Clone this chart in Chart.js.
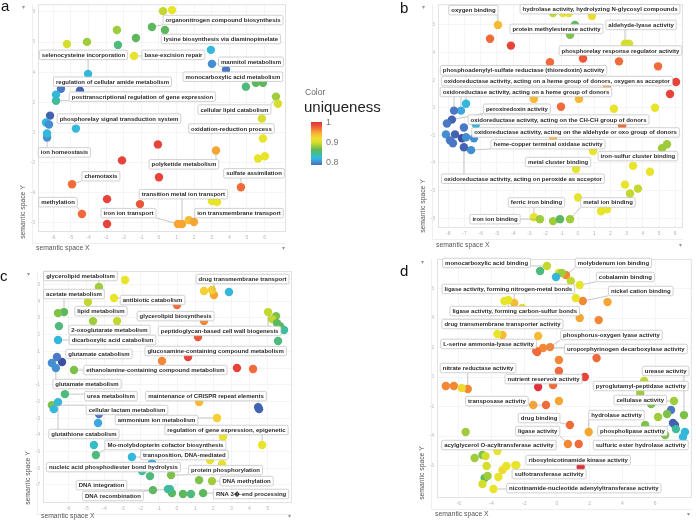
<!DOCTYPE html>
<html><head><meta charset="utf-8">
<script src="https://cdn.jsdelivr.net/npm/chart.js@4.4.0/dist/chart.umd.min.js"></script>
<style>
html,body{margin:0;padding:0;background:#fff;}
#wrap{position:relative;width:696px;height:523px;overflow:hidden;background:#fff;}
canvas{position:absolute;left:0;top:0;width:696px;height:523px;}
</style></head><body>
<div id="wrap">
<canvas id="ca" width="696" height="523"></canvas>
<canvas id="cb" width="696" height="523"></canvas>
<canvas id="cc" width="696" height="523"></canvas>
<canvas id="cd" width="696" height="523"></canvas>
</div>
<script>
// ---------- colour scale (uniqueness) ----------
const uStops  = [0.77,0.79,0.81,0.825,0.84,0.86,0.875,0.89,0.91,0.93,0.95,0.97,0.99,1.0];
const uColors = ['#3b4ea0','#4a78c4','#3ca6de','#2fbfd9','#40bc9c','#5cb85c','#8cc63f','#c3d72f','#e8e42b','#f6cf33','#f6a432','#f06a3a','#e8433a','#e2303a'];
const legendTicks = [1, 0.9, 0.8];

// ---------- panel a ----------
const aLabels = ["organonitrogen compound biosynthesis","lysine biosynthesis via diaminopimelate","selenocysteine incorporation","base-excision repair","mannitol metabolism","monocarboxylic acid metabolism","regulation of cellular amide metabolism","posttranscriptional regulation of gene expression","cellular lipid catabolism","phosphorelay signal transduction system","oxidation-reduction process","ion homeostasis","polyketide metabolism","chemotaxis","sulfate assimilation","transition metal ion transport","methylation","iron ion transport","ion transmembrane transport"];
const aLabelX = [3.64,3.52,-4.29,0.82,5.23,4.2,-2.64,-0.94,4.29,-2.27,4.12,-5.37,1.42,-3.30,5.40,1.39,-5.74,-1.73,4.55];
const aLabelY = [7.46,6.2,5.15,5.15,4.69,3.70,3.37,2.38,1.52,0.92,0.26,-1.32,-2.11,-2.90,-2.71,-4.09,-4.62,-5.35,-5.35];
const aX = [-0.40,0.34,-4.03,-1.42,3.01,3.81,-4.49,-5.85,6.65,-4.72,5.85,-6.36,3.24,-4.94,4.66,1.31,-4.38,1.08,1.70,
  0.23,0.74,-2.39,-1.31,-5.23,-4.09,-2.33,2.95,-5.57,-5.85,-6.19,-6.42,-6.25,-6.36,-0.06,-2.10,0,-2.95,-1.08,-2.95,4.94,5.51,5.91,6.76,5.91,5.63,6.02,3.01,3.30,1.99];
const aY = [7.0,6.8,3.89,5.08,4.55,4.16,2.77,2.11,2.38,0.26,0.92,-0.33,-1.19,-3.43,-3.63,-6.07,-5.41,-6.07,-5.81,
  8.05,8.12,6.8,6.27,5.87,6.01,5.81,5.48,2.90,2.51,1.12,0.66,0.53,-0.07,-0.79,-1.85,-2.97,-4.42,-4.75,-6.07,3.04,3.30,3.30,1.91,-0.40,-1.72,-1.58,-4.55,-4.62,-5.94];
const aU = [0.86,0.86,0.82,0.91,0.80,0.79,0.78,0.84,0.88,0.82,0.90,0.80,0.95,0.97,0.97,0.95,0.97,0.95,0.94,
  0.89,0.91,0.88,0.86,0.90,0.88,0.85,0.82,0.79,0.82,0.78,0.82,0.80,0.82,0.99,0.99,0.99,0.99,0.98,0.99,0.85,0.86,0.86,0.90,0.91,0.91,0.91,0.91,0.91,0.95];
const aXTicks = [-6,-5,-4,-3,-2,-1,0,1,2,3,4,5,6];
const aYTicks = [-6,-4,-2,0,2,4,6,8];

// ---------- panel b ----------
const bLabels = ["oxygen binding","hydrolase activity, hydrolyzing N-glycosyl compounds","protein methylesterase activity","aldehyde-lyase activity","phosphorelay response regulator activity","phosphoadenylyl-sulfate reductase (thioredoxin) activity","oxidoreductase activity, acting on a heme group of donors, oxygen as acceptor","oxidoreductase activity, acting on a heme group of donors","peroxiredoxin activity","oxidoreductase activity, acting on the CH-CH group of donors","oxidoreductase activity, acting on the aldehyde or oxo group of donors","heme-copper terminal oxidase activity","metal cluster binding","iron-sulfur cluster binding","oxidoreductase activity, acting on peroxide as acceptor","ferric iron binding","metal ion binding","iron ion binding"];
const bLabelX = [-6.45,1.36,-1.33,3.89,2.62,-3.36,-1.30,-3.21,-3.77,-1.20,-0.15,-1.85,-1.23,3.70,-3.40,-2.56,1.85,-5.12];
const bLabelY = [7.07,7.14,5.71,6.0,4.14,2.71,1.93,1.14,-0.07,-0.86,-1.79,-2.64,-3.93,-3.5,-5.14,-6.86,-6.86,-8.07];
const bX = [-4.94,-0.93,-0.49,2.90,0.31,-6.91,-7.22,-7.65,-7.78,-7.04,-6.42,-6.60,-0.12,5.19,-7.04,-2.72,-0.49,-2.35,
  -5.43,-4.14,-1.54,-0.56,0.86,-0.19,3.15,-1.73,2.53,4.94,6.05,1.79,5.68,-2.72,0.06,-1.05,2.22,4.75,2.72,-1.54,0.93,5.49,3.40,4.44,2.90,3.70,3.21,0,-1.54,-1.11,1.42,1.79,
  -8.09,-8.15,-7.59,-7.16,-6.91,-7.90,-7.72,-6.30];
const bY = [6.0,6.86,5.29,4.64,3.57,0.29,-0.21,-0.21,-0.86,-1.43,-2.21,-3.07,-4.43,-2.93,-2.86,-7.93,-8.07,-8.07,
  5.0,4.5,6.86,6.86,6.64,6.0,4.64,3.29,3.36,3.0,1.86,1.5,1.0,0.64,0.64,0.07,-0.07,0,-1.29,-2.14,-3.14,-2.64,-4.21,-4.64,-5.57,-5.86,-6.21,-6.5,-8.21,-8.07,-7.5,-7.36,
  -1.14,-1.93,-1.93,-2.21,-2.14,-2.36,-2.57,-1.21];
const bU = [0.94,0.91,0.87,0.90,0.98,0.82,0.81,0.79,0.78,0.79,0.80,0.80,0.91,0.88,0.78,0.91,0.88,0.88,
  0.97,0.99,0.89,0.91,0.92,0.86,0.90,0.97,0.97,0.97,0.99,0.95,0.99,0.94,0.94,0.97,0.91,0.91,0.97,0.94,0.91,0.88,0.91,0.91,0.91,0.89,0.89,0.91,0.88,0.86,0.91,0.91,
  0.79,0.80,0.78,0.77,0.80,0.79,0.79,0.82];
const bXTicks = [-8,-7,-6,-5,-4,-3,-2,-1,0,1,2,3,4,5,6];
const bYTicks = [-8,-6,-4,-2,0,2,4,6];

// ---------- panel c ----------
const cLabels = ["glycerolipid metabolism","drug transmembrane transport","acetate metabolism","antibiotic catabolism","lipid metabolism","glycerolipid biosynthesis","2-oxoglutarate metabolism","peptidoglycan-based cell wall biogenesis","dicarboxylic acid catabolism","glutamate catabolism","glucosamine-containing compound metabolism","ethanolamine-containing compound metabolism","glutamate metabolism","urea metabolism","maintenance of CRISPR repeat elements","cellular lactam metabolism","ammonium ion metabolism","regulation of gene expression, epigenetic","glutathione catabolism","Mo-molybdopterin cofactor biosynthesis","transposition, DNA-mediated","nucleic acid phosphodiester bond hydrolysis","protein phosphorylation","DNA methylation","DNA integration","RNA 3\uFFFD-end processing","DNA recombination"];
const cLabelX = [-5.33,3.62,-5.69,-1.35,-4.20,-0.08,-3.73,2.35,-3.56,-4.31,2.13,-1.19,-4.97,-3.65,1.60,-2.76,-1.13,2.73,-5.14,-0.64,0.41,-3.51,2.68,3.84,-4.17,4.09,-3.54];
const cLabelY = [5.51,5.33,4.43,4.07,3.41,3.11,2.28,2.22,1.68,0.84,1.02,-0.12,-0.96,-1.68,-1.68,-2.51,-3.11,-3.71,-3.95,-4.61,-5.21,-5.93,-6.11,-6.77,-7.01,-7.54,-7.66];
const cX = [-4.31,2.04,-6.24,-3.48,-4.92,1.49,-3.31,5.03,-6.57,-6.35,-0.83,-5.69,-6.69,-6.19,4.48,-6.91,2.21,4.70,-6.57,-4.48,-2.49,-1.93,-0.33,1.93,-1.33,1.44,-0.50,
  -2.87,-6.57,-4.64,-6.52,-6.63,-6.91,-6.80,-4.31,-4.36,-4.59,-1.38,-1.49,-0.28,1.49,1.93,2.87,0,1.16,0.61,5.47,5.25,5.52,5.69,5.91,5.58,3.31,4.20,1.22,4.53,2.54,1.82,2.49,1.22,0.33,0.77,-0.39];
const cY = [4.85,4.37,3.35,4.19,3.95,2.81,2.81,3.35,1.68,0.36,0.42,-0.12,0,-1.56,-2.34,-2.22,-2.99,-4.61,-2.04,-5.21,-5.33,-6.17,-6.41,-6.77,-7.31,-7.49,-7.25,
  5.27,3.29,2.81,2.51,0.66,0.30,-2.46,-2.75,-3.29,-4.61,-5.69,-6.47,-7.49,4.61,4.67,4.55,3.77,1.86,0.66,3.11,2.93,2.69,2.51,2.28,1.62,0,-0.06,-2.04,-2.46,-4.13,-5.51,-5.75,-6.71,-7.54,-7.54,-7.25];
const cU = [0.88,0.95,0.86,0.91,0.89,0.96,0.89,0.89,0.82,0.77,0.96,0.87,0.80,0.85,0.78,0.87,0.93,0.91,0.82,0.85,0.82,0.84,0.87,0.88,0.86,0.86,0.84,
  0.91,0.87,0.88,0.85,0.79,0.80,0.82,0.79,0.81,0.83,0.81,0.85,0.86,0.93,0.93,0.82,0.97,0.98,0.99,0.87,0.89,0.86,0.86,0.84,0.85,0.99,0.97,0.94,0.78,0.91,0.91,0.91,0.87,0.86,0.85,0.84];
const cXTicks = [-6,-5,-4,-3,-2,-1,0,1,2,3,4,5];
const cYTicks = [-7,-6,-5,-4,-3,-2,-1,0,1,2,3,4,5];

// ---------- panel d ----------
const dLabels = ["monocarboxylic acid binding","molybdenum ion binding","cobalamin binding","ligase activity, forming nitrogen-metal bonds","nickel cation binding","ligase activity, forming carbon-sulfur bonds","drug transmembrane transporter activity","phosphorus-oxygen lyase activity","L-serine ammonia-lyase activity","uroporphyrinogen decarboxylase activity","nitrate reductase activity","nutrient reservoir activity","urease activity","pyroglutamyl-peptidase activity","transposase activity","cellulase activity","drug binding","hydrolase activity","ligase activity","phospholipase activity","acylglycerol O-acyltransferase activity","sulfuric ester hydrolase activity","ribosylnicotinamide kinase activity","sulfotransferase activity","nicotinamide-nucleotide adenylyltransferase activity"];
const dLabelX = [-4.30,3.45,4.18,-2.97,5.12,-2.58,-3.33,3.33,-4.18,4.21,-4.82,-0.82,6.64,5.12,-3.67,5.09,-1.09,3.64,-1.18,4.61,-3.55,5.12,1.30,-0.48,1.64];
const dLabelY = [7.73,7.73,6.78,5.97,5.83,4.47,3.59,2.85,2.24,1.90,0.61,-0.14,0.41,-0.61,-1.63,-1.56,-2.78,-2.58,-3.66,-3.66,-4.61,-4.61,-5.63,-6.58,-7.53];
const dX = [-0.61,0.55,1.39,-2.61,1.58,-2.97,-3.33,-0.42,-1.21,-0.85,-5.45,1.70,7.76,5.33,-0.67,7.15,0.79,1.94,0.67,7.09,-3.64,7.70,1.45,-2.48,-3.88,
  -3.21,-3.64,-6.79,-6.30,-5.82,-5.58,-5.03,-4.55,-4.36,-4.30,-3.33,-3.09,-2.55,-4.42,-4.24,-4.55,-3.58,
  -1.03,0.12,0.30,-0.06,0.85,1.15,3.09,-2.12,1.39,2.55,-1.15,-1.27,0.12,2.42,0.12,-1.15,-0.24,5.09,-1.45,0.12,5.76,6.97,6.73,6.18,5.39,7.21,7.27,7.82,6.61,1.33];
const dY = [7.53,6.92,6.24,5.02,5.15,5.22,2.85,2.03,1.69,1.97,-0.81,0,-2.58,-0.27,-1.90,-1.63,-3.25,-3.73,-4.54,-3.12,-5.02,-4.07,-6.10,-5.97,-7.59,
  5.15,2.92,-0.61,-0.61,-0.75,-3.73,-5.49,-5.29,-5.36,-6.03,-6.31,-6.03,-5.97,-6.85,-6.71,-7.25,-6.78,
  7.19,7.05,7.05,6.78,6.51,5.36,5.08,4.68,4.0,3.86,2.78,1.76,1.15,1.29,0.41,-0.68,-0.54,-1.08,-1.90,-1.63,-1.83,-2.24,-2.51,-2.71,-3.25,-3.25,-3.53,-3.73,-3.93,-4.54];
const dU = [0.89,0.96,0.91,0.94,0.96,0.91,0.94,0.96,0.97,0.96,0.96,0.99,0.87,0.89,0.97,0.88,0.97,0.95,0.96,0.78,0.91,0.82,1.0,0.91,0.91,
  0.91,0.91,0.96,0.96,0.92,0.88,0.88,0.87,0.90,0.90,0.92,0.91,0.91,0.86,0.88,0.90,0.91,
  0.85,0.90,0.88,0.82,0.89,0.91,0.95,0.92,0.95,0.96,0.94,0.97,0.96,0.97,0.97,1.0,0.97,0.88,0.95,0.95,0.87,0.79,0.87,0.88,0.87,0.78,0.84,0.82,0.87,0.97];
const dXTicks = [-6,-4,-2,0,2,4,6];
const dYTicks = [-6,-4,-2,0,2,4,6];

// ---------- helpers ----------
const FONT = '"Liberation Sans", Arial, sans-serif';
function hex(h){return [parseInt(h.substr(1,2),16),parseInt(h.substr(3,2),16),parseInt(h.substr(5,2),16)];}
function colorFor(u){
  if(u<=uStops[0]) return uColors[0];
  for(let i=1;i<uStops.length;i++){
    if(u<=uStops[i]){
      const t=(u-uStops[i-1])/(uStops[i]-uStops[i-1]);
      const a=hex(uColors[i-1]), b=hex(uColors[i]);
      return 'rgb('+a.map((v,k)=>Math.round(v+(b[k]-v)*t)).join(',')+')';
    }
  }
  return uColors[uColors.length-1];
}
function rr(ctx,x,y,w,h,r){
  ctx.beginPath();ctx.moveTo(x+r,y);ctx.lineTo(x+w-r,y);ctx.quadraticCurveTo(x+w,y,x+w,y+r);
  ctx.lineTo(x+w,y+h-r);ctx.quadraticCurveTo(x+w,y+h,x+w-r,y+h);ctx.lineTo(x+r,y+h);
  ctx.quadraticCurveTo(x,y+h,x,y+h-r);ctx.lineTo(x,y+r);ctx.quadraticCurveTo(x,y,x+r,y);ctx.closePath();
}
const YW = 14, XH = 10, PR = 4.2;

function deco(P){
  return {
    id:'deco'+P.id,
    beforeDatasetsDraw(chart){
      const {ctx, chartArea:a} = chart;
      ctx.save();
      ctx.strokeStyle='#e2e2e2'; ctx.lineWidth=1;
      ctx.strokeRect(a.left+0.5,a.top+0.5,a.width-1,a.height-1);
      ctx.strokeStyle='#efefef';
      ctx.beginPath();
      ctx.moveTo(a.left-5.5,a.top); ctx.lineTo(a.left-5.5,a.bottom+11.5); ctx.lineTo(a.right,a.bottom+11.5);
      ctx.stroke();
      ctx.restore();
    },
    afterDatasetsDraw(chart){
      const {ctx} = chart; const xs=chart.scales.x, ys=chart.scales.y;
      ctx.save();
      ctx.font='bold 6px '+FONT;
      const boxes=P.labels.map((t,i)=>{
        const w=ctx.measureText(t).width+5, h=9.5;
        const cx=xs.getPixelForValue(P.lx[i]), cy=ys.getPixelForValue(P.ly[i]);
        return {t,x:cx-w/2,y:cy-h/2,w,h,cx,cy};
      });
      ctx.strokeStyle='#a0a0a0'; ctx.lineWidth=0.6;
      boxes.forEach((b,i)=>{
        const px=xs.getPixelForValue(P.x[i]), py=ys.getPixelForValue(P.y[i]);
        const nx=Math.max(b.x,Math.min(px,b.x+b.w)), ny=Math.max(b.y,Math.min(py,b.y+b.h));
        const d=Math.hypot(px-nx,py-ny);
        if(d>PR+2){
          const r=PR/d;
          ctx.beginPath(); ctx.moveTo(nx,ny); ctx.lineTo(px-(px-nx)*r,py-(py-ny)*r); ctx.stroke();
        }
      });
      boxes.forEach(b=>{
        rr(ctx,b.x,b.y,b.w,b.h,1.5);
        ctx.fillStyle='rgba(255,255,255,0.96)'; ctx.fill();
        ctx.strokeStyle='#bdbdbd'; ctx.lineWidth=0.7; ctx.stroke();
        ctx.fillStyle='#2b2b2b'; ctx.textAlign='center'; ctx.textBaseline='middle';
        ctx.fillText(b.t,b.cx,b.cy+0.3);
      });
      ctx.restore();
    },
    afterDraw(chart){
      const {ctx, chartArea:a} = chart;
      ctx.save();
      ctx.fillStyle='#555'; ctx.font='6.8px '+FONT;
      ctx.textAlign='left'; ctx.textBaseline='middle';
      ctx.fillText('semantic space X', a.left-2, a.bottom+P.xtOff);
      ctx.save();
      ctx.translate(a.left-15, a.bottom-P.ytOff); ctx.rotate(-Math.PI/2);
      ctx.textAlign='center'; ctx.fillText('semantic space Y',0,0);
      ctx.restore();
      ctx.fillStyle='#999'; ctx.font='6px '+FONT; ctx.textAlign='center';
      ctx.fillText('\u25BE', a.left-15, a.top+3);
      ctx.fillText('\u25BE', a.right-3, a.bottom+P.xtOff);
      ctx.fillStyle='#111'; ctx.font='15px '+FONT; ctx.textAlign='left'; ctx.textBaseline='alphabetic';
      ctx.fillText(P.letter, P.lpos[0], P.lpos[1]);
      if(P.legend){
        ctx.fillStyle='#666'; ctx.font='8.5px '+FONT; ctx.textBaseline='middle';
        ctx.fillText('Color', 305, 93);
        ctx.fillStyle='#222'; ctx.font='15px '+FONT;
        ctx.fillText('uniqueness', 304, 108);
        const top=122, bot=165, x0=311, w=11;
        const uAt=y=>1-(y-top)/200;
        const g=ctx.createLinearGradient(0,top,0,bot);
        for(let k=0;k<=20;k++){ const y=top+(bot-top)*k/20; g.addColorStop(k/20, colorFor(uAt(y))); }
        ctx.fillStyle=g; ctx.fillRect(x0,top,w,bot-top);
        ctx.fillStyle='#777'; ctx.font='9px '+FONT;
        legendTicks.forEach(v=>{ ctx.fillText(String(v), 326, top+(1-v)*200+1); });
      }
      ctx.restore();
    }
  };
}

function makePanel(id,P){
  const pts=P.x.map((v,i)=>({x:v,y:P.y[i]}));
  const cols=P.u.map(colorFor);
  const tickOpt={font:{size:5,family:FONT},color:'#b5b5b5',padding:3,maxRotation:0,autoSkip:false};
  const gridOpt={color:'#f0f0f0',lineWidth:0.7,drawTicks:false};
  new Chart(document.getElementById(id),{
    type:'scatter',
    data:{datasets:[{data:pts,backgroundColor:cols,borderColor:cols,borderWidth:0,pointRadius:PR,pointHoverRadius:PR}]},
    options:{
      responsive:false,animation:false,devicePixelRatio:1,events:[],
      layout:{padding:{left:P.area[0]-YW,top:P.area[1],right:696-P.area[2],bottom:523-P.area[3]-XH}},
      plugins:{legend:{display:false},tooltip:{enabled:false}},
      scales:{
        x:{type:'linear',min:P.xr[0],max:P.xr[1],
           afterBuildTicks:s=>{s.ticks=P.xt.map(v=>({value:v}));},
           afterFit:s=>{s.height=XH;s.paddingLeft=0;s.paddingRight=0;s.paddingTop=0;s.paddingBottom=0;},
           grid:gridOpt,border:{display:false},ticks:tickOpt},
        y:{type:'linear',min:P.yr[0],max:P.yr[1],
           afterBuildTicks:s=>{s.ticks=P.yt.map(v=>({value:v}));},
           afterFit:s=>{s.width=YW;s.paddingLeft=0;s.paddingRight=0;s.paddingTop=0;s.paddingBottom=0;},
           grid:gridOpt,border:{display:false},ticks:tickOpt}
      }
    },
    plugins:[deco(P)]
  });
}

makePanel('ca',{id:'a',x:aX,y:aY,u:aU,labels:aLabels,lx:aLabelX,ly:aLabelY,xt:aXTicks,yt:aYTicks,
  area:[38,3,286,232],xr:[-6.875,7.22],yr:[-6.6,8.51],letter:'a',lpos:[1,11],xtOff:16,ytOff:20,legend:true});
makePanel('cb',{id:'b',x:bX,y:bY,u:bU,labels:bLabels,lx:bLabelX,ly:bLabelY,xt:bXTicks,yt:bYTicks,
  area:[438,1,683,228],xr:[-8.64,6.48],yr:[-8.71,7.5],letter:'b',lpos:[400,13],xtOff:17,ytOff:22});
makePanel('cc',{id:'c',x:cX,y:cY,u:cU,labels:cLabels,lx:cLabelX,ly:cLabelY,xt:cXTicks,yt:cYTicks,
  area:[43,271,292,503],xr:[-7.4,6.35],yr:[-8.08,5.81],letter:'c',lpos:[0,281],xtOff:13,ytOff:25});
makePanel('cd',{id:'d',x:dX,y:dY,u:dU,labels:dLabels,lx:dLabelX,ly:dLabelY,xt:dXTicks,yt:dYTicks,
  area:[437,259,694,498],xr:[-7.33,8.24],yr:[-8.2,8.0],letter:'d',lpos:[400,276],xtOff:16,ytOff:25});
</script>
</body></html>
